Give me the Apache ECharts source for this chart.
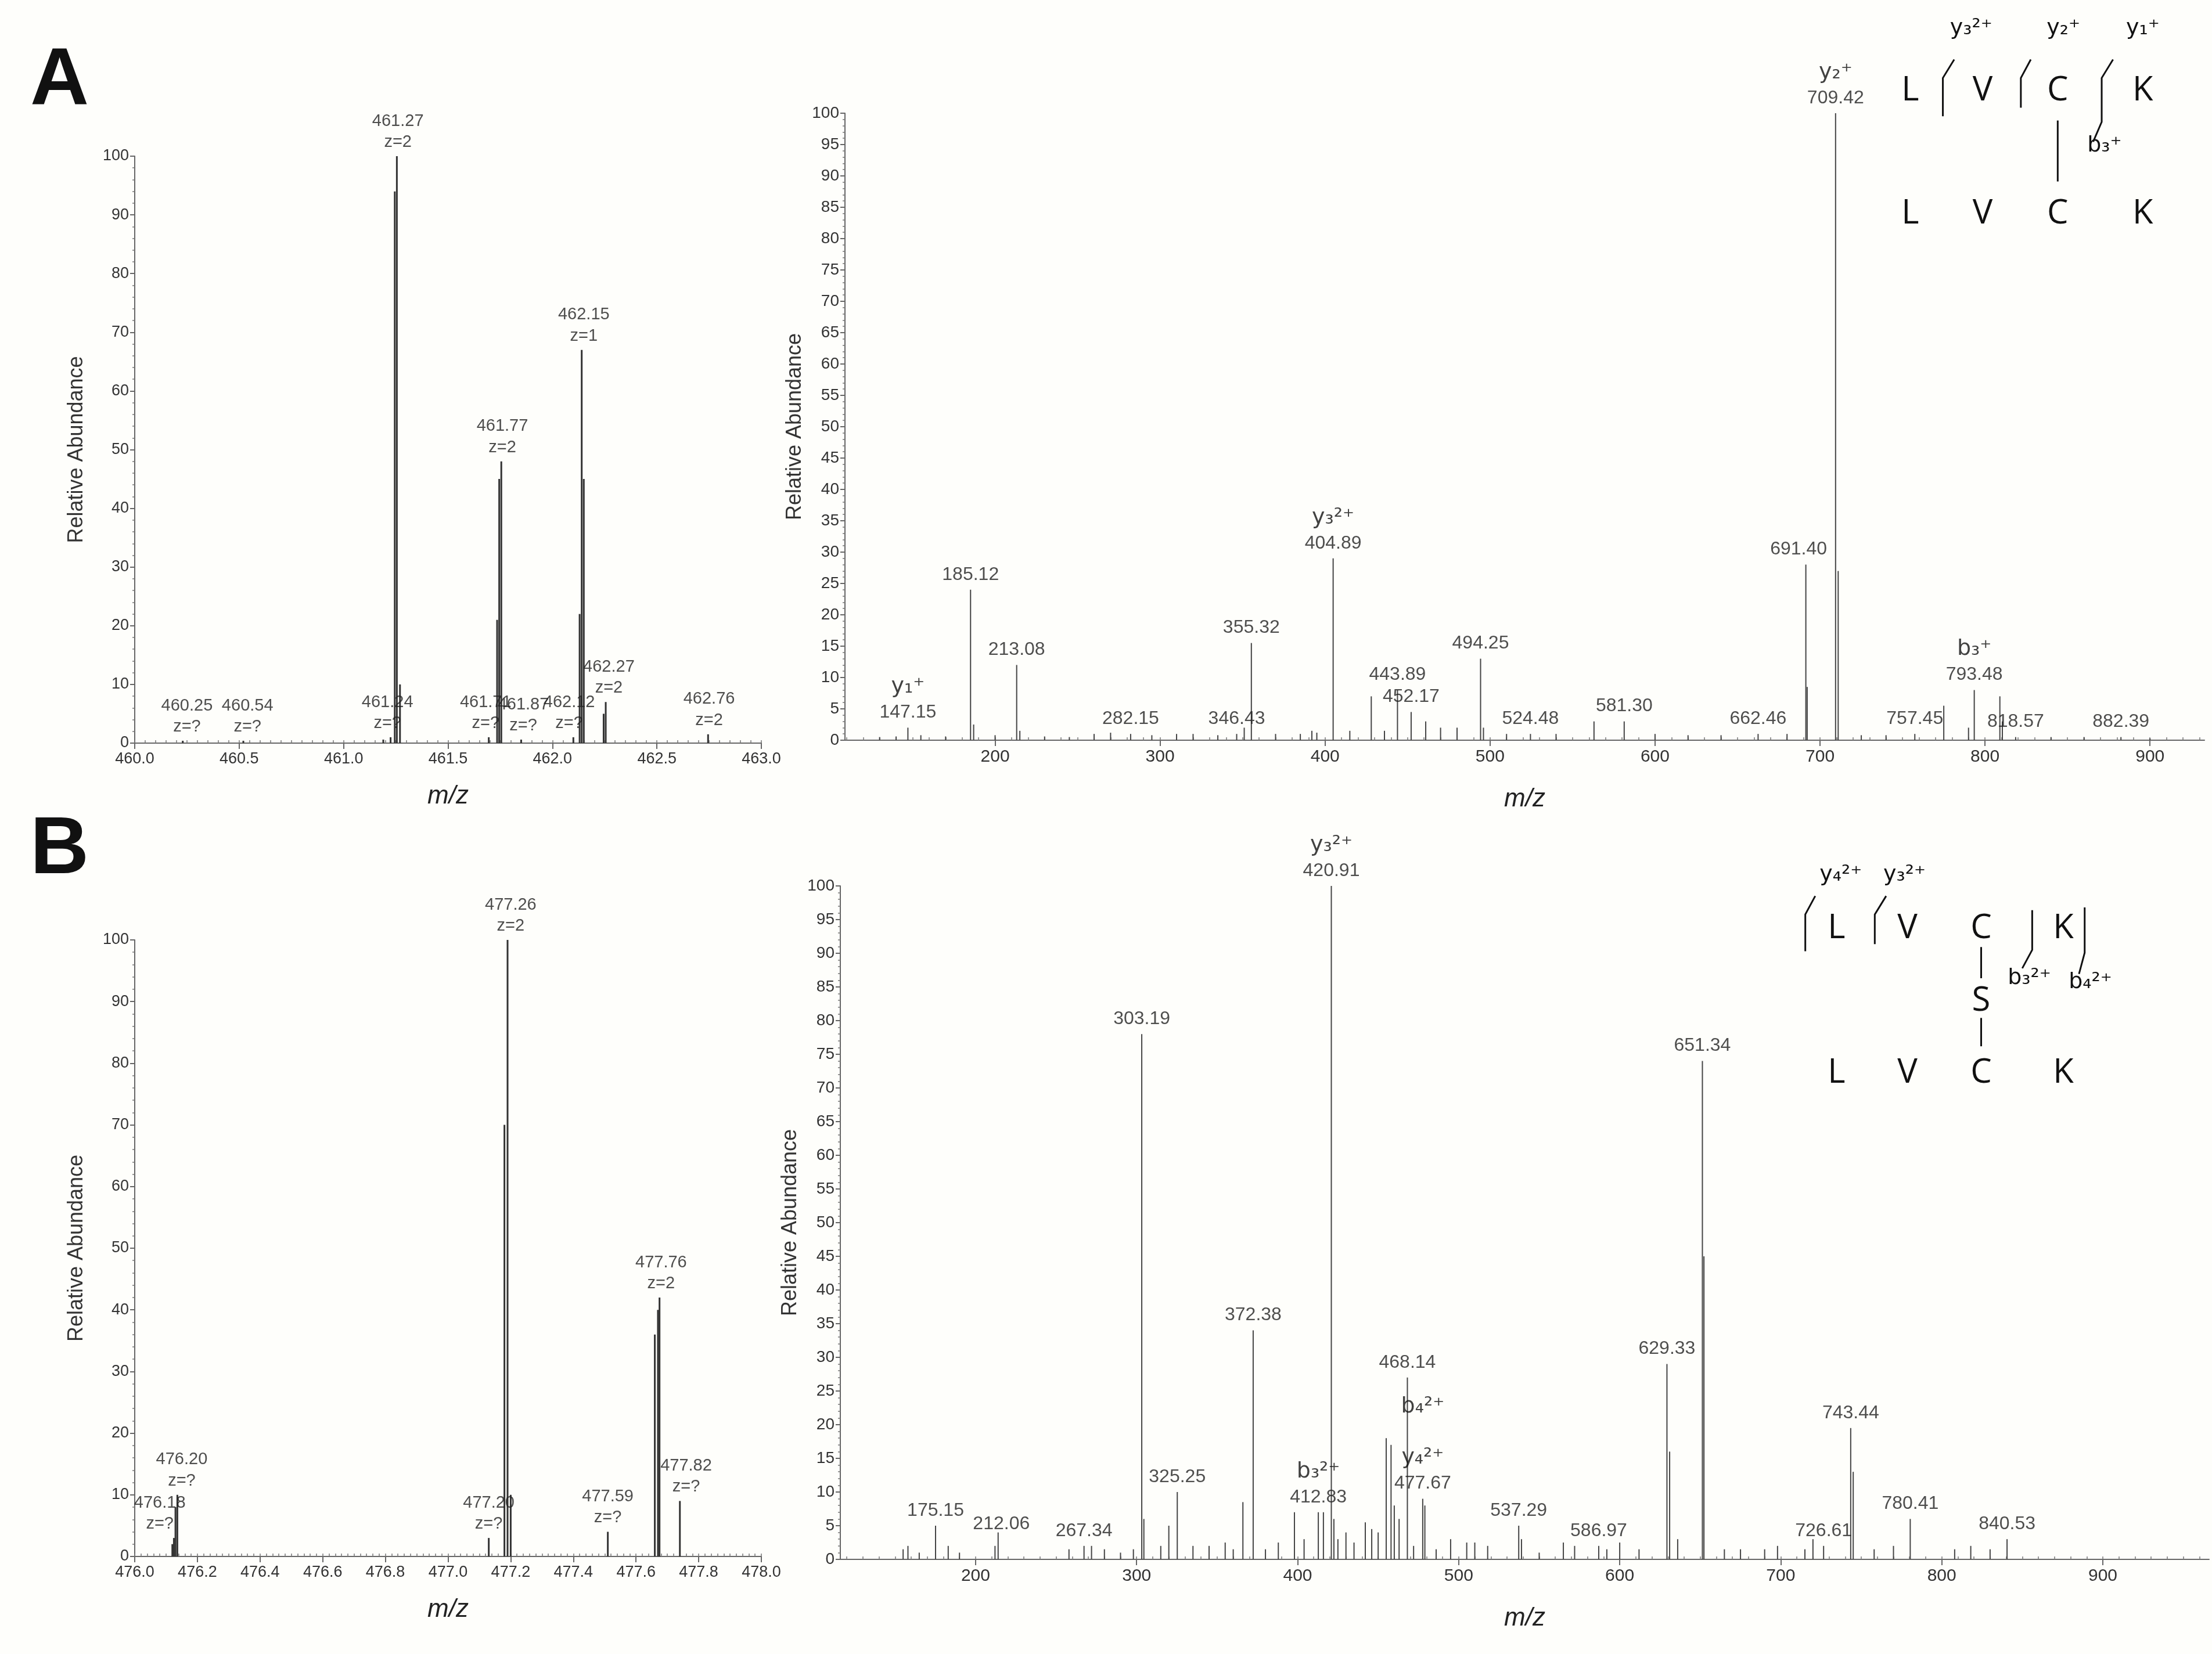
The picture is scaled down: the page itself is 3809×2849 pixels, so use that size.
<!DOCTYPE html>
<html><head><meta charset="utf-8">
<script src="https://cdn.jsdelivr.net/npm/echarts@6/dist/echarts.min.js"></script>
<style>html,body{margin:0;padding:0;background:#fefefb}#c{width:3809px;height:2849px}</style>
</head><body><div id="c"></div>
<script>
// ---------- DATA ----------
// Panel A left (MS1, precursor isotopes) — stick positions as drawn in the picture
const mzA1 = [460.23,460.52,461.19,461.225,461.245,461.255,461.27,461.695,461.735,461.745,461.755,461.85,462.10,462.13,462.14,462.15,462.245,462.255,462.745];
const inA1 = [0.4,0.4,0.6,1.0,94,100,10,1.0,21,45,48,0.6,1.0,22,67,45,5,7,1.5];
const labA1 = [[460.25,0.4,'460.25\nz=?'],[460.54,0.4,'460.54\nz=?'],[461.21,1,'461.24\nz=?'],[461.26,100,'461.27\nz=2'],
  [461.68,1,'461.71\nz=?'],[461.76,48,'461.77\nz=2'],[461.86,0.6,'461.87\nz=?'],[462.08,1,'462.12\nz=?'],
  [462.15,67,'462.15\nz=1'],[462.27,7,'462.27\nz=2'],[462.75,1.5,'462.76\nz=2']];
// Panel A right (MS2)
const mzA2 = [130,140,147.15,155,170,185.12,187,200,213.08,215,230,245,260,270,282.15,295,310,320,335,346.43,351,355.32,370,385,392,395,404.89,415,428,436,443.89,452.17,461,470,480,494.25,496,510,524.48,540,563,581.30,600,620,640,662.46,680,691.40,692.2,709.42,711,725,740,757.45,775,790,793.48,809,810.5,818.57,840,860,882.39,900];
const inA2 = [0.5,0.6,2,0.8,0.6,24,2.5,0.8,12,1.5,0.6,0.5,1,1.2,1,0.8,1,1,0.8,1,2,15.5,1,1,1.5,1.2,29,1.5,7,1.5,8,4.5,3,2,2,13,2,1,1,1,3,3,1,0.8,0.8,1,1,28,8.5,100,27,0.8,0.8,1,5.5,2,8,7,3,0.5,0.5,0.5,0.5,0.3];
const labA2 = [[147.15,2,'{i|y₁⁺}\n147.15'],[185.12,24,'185.12'],[213.08,12,'213.08'],[282.15,1,'282.15'],[346.43,1,'346.43'],
  [355.32,15.5,'355.32'],[404.89,29,'{i|y₃²⁺}\n404.89'],[443.89,8,'443.89'],[452.17,4.5,'452.17'],[494.25,13,'494.25'],
  [524.48,1,'524.48'],[581.30,3,'581.30'],[662.46,1,'662.46'],[687,28,'691.40'],[709.42,100,'{i|y₂⁺}\n709.42'],
  [757.45,1,'757.45'],[793.48,8,'{i|b₃⁺}\n793.48'],[818.57,0.5,'818.57'],[882.39,0.5,'882.39']];
// Panel B left — stick positions as drawn
const mzB1 = [476.12,476.125,476.13,476.136,477.13,477.18,477.19,477.20,477.51,477.66,477.67,477.675,477.74];
const inB1 = [2,3,8,10,3,70,100,10,4,36,40,42,9];
const labB1 = [[476.08,3,'476.18\nz=?'],[476.15,10,'476.20\nz=?'],[477.13,3,'477.20\nz=?'],[477.20,100,'477.26\nz=2'],
  [477.51,4,'477.59\nz=?'],[477.68,42,'477.76\nz=2'],[477.76,9,'477.82\nz=?']];
// Panel B right
const mzB2 = [155,158,165,175.15,183,190,212.06,214,258,267.34,272,280,290,298,303.19,304.5,315,320,325.25,335,345,355,360,366,372.38,380,388,398,404,412.83,416,420.91,422.5,425,430,435,442,446,450,455,458,460,463,468.14,472,477.67,479,486,495,505,510,518,537.29,539,550,565,572,586.97,592,600,612,629.33,631,636,651.34,652.3,665,675,690,698,715,720,726.61,743.44,745,758,770,780.41,808,818,830,840.53];
const inB2 = [1.5,2,1,5,2,1,2,4,1.5,2,2,1.5,1,1.5,78,6,2,5,10,2,2,2.5,1.5,8.5,34,1.5,2.5,7,3,7,7,100,6,3,4,2.5,5.5,4.5,4,18,17,8,6,27,2,9,8,1.5,3,2.5,2.5,2,5,3,1,2.5,2,2,1.5,2.5,1.5,29,16,3,74,45,1.5,1.5,1.5,2,1.5,3,2,19.5,13,1.5,2,6,1.5,2,1.5,3];
const labB2 = [[175.15,5,'175.15'],[216,3,'212.06'],[267.34,2,'267.34'],[303.19,78,'303.19'],[325.25,10,'325.25'],
  [372.38,34,'372.38'],[412.83,7,'{i|b₃²⁺}\n412.83'],[420.91,100,'{i|y₃²⁺}\n420.91'],[468.14,27,'468.14'],
  [477.67,9,'{i|b₄²⁺}\n\n{i|y₄²⁺}\n477.67'],[537.29,5,'537.29'],[586.97,2,'586.97'],[629.33,29,'629.33'],[651.34,74,'651.34'],
  [726.61,2,'726.61'],[743.44,19.5,'743.44'],[780.41,6,'780.41'],[840.53,3,'840.53']];
const xTicksRight = [200,300,400,500,600,700,800,900];

// ---------- CHART ----------
const K = 2.442;
const FONT = 'Liberation Sans, Arial, sans-serif';
const grids = [
  {left:232, right:2498, top:269, bottom:1569},
  {left:1455, right:13, top:195, bottom:1574},
  {left:232, right:2498, top:1619, bottom:168},
  {left:1447, right:5, top:1526, bottom:163}
];
const xr = [[460,463,0.5,0.05,v=>v.toFixed(1)],[109,933,null,10,v=>v],[476,478,0.2,0.02,v=>v.toFixed(1)],[116,966,null,10,v=>v]];
const xAxis=[], yAxis=[];
const axisLine={lineStyle:{color:'#666',width:2}};
xr.forEach((r,i)=>{
  const minorVals=[]; for(let v=Math.ceil(r[0]/r[3])*r[3]; v<=r[1]+1e-9; v+=r[3]) minorVals.push(+v.toFixed(3));
  xAxis.push({type:'value',gridIndex:i,min:r[0],max:r[1],interval:r[2]||undefined,
    axisLine:{onZero:false,...axisLine},splitLine:{show:false},
    axisTick:r[2]?{length:10,lineStyle:{color:'#666',width:2}}:{length:10,customValues:xTicksRight,lineStyle:{color:'#666',width:2}},
    axisLabel:r[2]?{fontSize:27,color:'#333',fontFamily:FONT,margin:14,formatter:r[4]}:{fontSize:30,color:'#333',fontFamily:FONT,margin:14,customValues:xTicksRight},
    name:'m/z',nameLocation:'middle',nameGap:i%2?80:70,nameTextStyle:{fontSize:44,fontStyle:'italic',color:'#222',fontFamily:FONT}});
  xAxis.push({type:'value',gridIndex:i,min:r[0],max:r[1],axisLine:{show:false},splitLine:{show:false},axisLabel:{show:false},
    axisTick:{length:5,customValues:minorVals,lineStyle:{color:'#777',width:1.5}}});
  const right = i%2===1;
  yAxis.push({type:'value',gridIndex:i,min:0,max:100,interval:right?5:10,axisLine:{show:true,...axisLine},splitLine:{show:false},
    axisTick:{show:true,length:8,lineStyle:{color:'#666',width:2}},
    minorTick:{show:true,splitNumber:5,length:4,lineStyle:{color:'#777',width:1.5}},
    axisLabel:{fontSize:right?28:27,color:'#333',fontFamily:FONT,margin:10},
    name:'Relative Abundance',nameLocation:'middle',nameGap:right?55:82,nameTextStyle:{fontSize:36,color:'#333',fontFamily:FONT}});
});
function stick(mz,ins,gi,w,col){
  return {type:'custom',xAxisIndex:gi*2,yAxisIndex:gi,clip:true,data:mz.map((m,j)=>[m,ins[j]]),
    renderItem:(p,api)=>{const a=api.coord([api.value(0),0]),b=api.coord([api.value(0),api.value(1)]);
      return {type:'line',shape:{x1:a[0],y1:a[1],x2:b[0],y2:b[1]},style:{stroke:col,lineWidth:w}};}};
}
function labels(arr,gi,fs){
  return {type:'scatter',xAxisIndex:gi*2,yAxisIndex:gi,symbolSize:0,silent:true,data:arr.map(a=>[a[0],a[1]]),
    label:{show:true,position:'top',distance:6,fontSize:fs,lineHeight:fs*1.25,color:'#222',fontFamily:FONT,
      rich:{i:{fontSize:38,lineHeight:48,fontFamily:'DejaVu Sans, sans-serif',color:'#111'}},
      formatter:p=>arr[p.dataIndex][2]}};
}
const series=[stick(mzA1,inA1,0,3,'#333'),labels(labA1,0,29),
  stick(mzA2,inA2,1,2,'#444'),labels(labA2,1,32),
  stick(mzB1,inB1,2,3,'#333'),labels(labB1,2,29),
  stick(mzB2,inB2,3,2,'#444'),labels(labB2,3,32)];

const s=v=>v*K;
const G=[];
const txt=(x,y,t,fs,extra)=>G.push({type:'text',x:s(x),y:s(y),style:Object.assign({text:t,fontSize:fs,fontFamily:'DejaVu Sans, sans-serif',fill:'#111',textAlign:'center',textVerticalAlign:'middle'},extra||{})});
const pl=(pts)=>G.push({type:'polyline',shape:{points:pts.map(p=>[s(p[0]),s(p[1])])},style:{stroke:'#111',lineWidth:3,fill:null}});
txt(42,58,'A',140,{fontWeight:'bold',fontFamily:FONT});
txt(42,600,'B',140,{fontWeight:'bold',fontFamily:FONT});
const seqF={fontFamily:'Open Sans, sans-serif'};
// sequence A
[['L',1347],['V',1398],['C',1451],['K',1511]].forEach(l=>{txt(l[1],64,l[0],58,seqF);txt(l[1],151,l[0],58,seqF);});
pl([[1451,85],[1451,128]]);
pl([[1370,82],[1370,55],[1378,42]]);
pl([[1425,76],[1425,55],[1432,42]]);
pl([[1476,100],[1482,86],[1482,55],[1490,42]]);
txt(1390,20,'y₃²⁺',38);txt(1455,20,'y₂⁺',38);txt(1511,20,'y₁⁺',38);txt(1484,103,'b₃⁺',38);
// sequence B
[['L',1295],['V',1345],['C',1397],['K',1455]].forEach(l=>{txt(l[1],655,l[0],58,seqF);txt(l[1],757,l[0],58,seqF);});
txt(1397,706,'S',58,seqF);
pl([[1397,668],[1397,690]]);pl([[1397,718],[1397,738]]);
pl([[1273,671],[1273,645],[1280,632]]);
pl([[1322,666],[1322,645],[1330,632]]);
pl([[1426,683],[1433,670],[1433,642]]);
pl([[1466,687],[1470,672],[1470,640]]);
txt(1298,617,'y₄²⁺',38);txt(1343,617,'y₃²⁺',38);txt(1431,690,'b₃²⁺',38);txt(1474,693,'b₄²⁺',38);

const chart=echarts.init(document.getElementById('c'),null,{renderer:'canvas'});
chart.setOption({backgroundColor:'#fefefb',animation:false,grid:grids,xAxis,yAxis,series,graphic:G});
</script></body></html>
